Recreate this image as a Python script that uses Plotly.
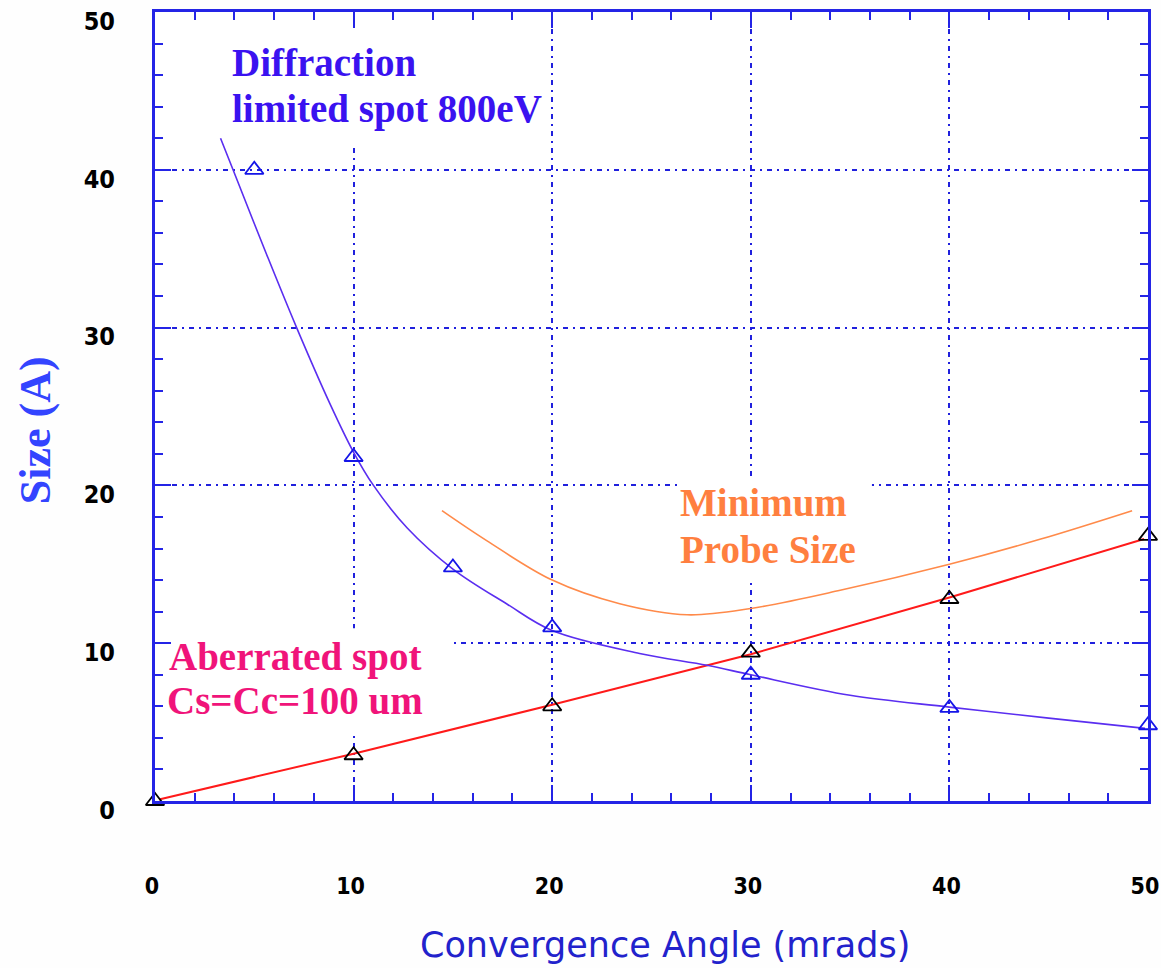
import plotly.graph_objects as go

# ---- data ----
diff_marker_x = [5, 10, 15, 20, 30, 40, 50]
diff_marker_y = [40.0, 21.8, 14.8, 11.0, 8.0, 5.9, 4.8]

diff_curve_x = [3.3, 3.93, 5.6, 7.13, 8.8, 10, 11.0, 12.7, 15, 17.7, 20, 24.4, 27.8, 30, 35, 40, 45, 49.85]
diff_curve_y = [42.0, 40.0, 34.7, 30.0, 25.2, 22.1, 20.0, 17.3, 14.7, 12.5, 10.8, 9.35, 8.6, 8.0, 6.7, 5.95, 5.25, 4.6]

aber_marker_x = [0, 10, 20, 30, 40, 50]
aber_marker_y = [0.0, 2.9, 6.0, 9.4, 12.8, 16.8]

aber_line_x = [0.2, 10, 20, 30, 40, 49.8]
aber_line_y = [0.1, 3.0, 6.1, 9.3, 12.9, 16.6]

probe_x = [14.45, 16.7, 20, 23.4, 26.8, 30, 34.5, 40, 44.6, 49.2]
probe_y = [18.4, 16.5, 14.0, 12.5, 11.8, 12.2, 13.35, 15.0, 16.6, 18.4]

x_ticks = [0, 10, 20, 30, 40, 50]
y_ticks = [0, 10, 20, 30, 40, 50]

AXIS_BLUE = "#2424E6"
GRID_BLUE = "#2020DD"

fig = go.Figure()

fig.add_trace(go.Scatter(x=aber_line_x, y=aber_line_y, mode="lines",
                         line=dict(color="#FF1A1A", width=2), hoverinfo="skip"))
fig.add_trace(go.Scatter(x=probe_x, y=probe_y, mode="lines",
                         line=dict(color="#FF8A4A", width=1.6, shape="spline", smoothing=1.0)))
fig.add_trace(go.Scatter(x=diff_curve_x, y=diff_curve_y, mode="lines",
                         line=dict(color="#5A2EF0", width=1.6, shape="spline", smoothing=1.0)))
fig.add_trace(go.Scatter(x=diff_marker_x, y=diff_marker_y, mode="markers", cliponaxis=False,
                         marker=dict(symbol="triangle-up-open", size=16, color="#1515E8",
                                     line=dict(width=1.8, color="#1515E8"))))
fig.add_trace(go.Scatter(x=aber_marker_x, y=aber_marker_y, mode="markers", cliponaxis=False,
                         marker=dict(symbol="triangle-up-open", size=16, color="#000000",
                                     line=dict(width=1.8, color="#000000"))))

# white boxes hiding gridlines behind the labels (above grid, below traces)
for x0, x1, y0, y1 in [(2.3, 19.7, 41.7, 50), (26.3, 36.1, 14.0, 20.4), (0, 15.0, 4.3, 10.95)]:
    fig.add_shape(type="rect", xref="x", yref="y", x0=x0, x1=x1, y0=y0, y1=y1,
                  fillcolor="white", line=dict(width=0), layer="between")

serif = "Liberation Serif, Times New Roman, serif"
labels = [
    ("Diffraction", 3.78, 46.8, "#3A12F0"),
    ("limited spot 800eV", 3.78, 43.86, "#3A12F0"),
    ("Minimum", 26.33, 18.9, "#FF7F3F"),
    ("Probe Size", 26.33, 15.95, "#FF7F3F"),
    ("Aberrated spot", 0.6, 9.1, "#F0147A"),
    ("Cs=Cc=100 um", 0.5, 6.4, "#F0147A"),
]
for txt, x, y, c in labels:
    fig.add_annotation(text=txt, x=x, y=y, xref="x", yref="y", xanchor="left", yanchor="middle",
                       showarrow=False, font=dict(family=serif, size=39, color=c, weight="bold"))

fig.add_annotation(text="Size (A)", x=-0.1208, y=0.47, xref="paper", yref="paper",
                   textangle=-90, showarrow=False, xanchor="center", yanchor="middle",
                   font=dict(family=serif, size=44, color="#3344FF", weight="bold"))
fig.add_annotation(text="Convergence Angle (mrads)", x=0.5136, y=-0.1825, xref="paper", yref="paper",
                   showarrow=False, xanchor="center", yanchor="middle",
                   font=dict(family="DejaVu Sans, sans-serif", size=35, color="#2222CC"))

tick_family = "DejaVu Sans Condensed, DejaVu Sans, sans-serif"

common = dict(
    showline=True, linecolor=AXIS_BLUE, linewidth=3, mirror="allticks",
    ticks="inside", ticklen=16, tickwidth=2, tickcolor=AXIS_BLUE,
    showgrid=True, gridcolor=GRID_BLUE, gridwidth=2, griddash="5px,5px,2px,5px",
    zeroline=False, tickmode="array",
    minor=dict(dtick=2, ticks="inside", ticklen=8, tickwidth=2, tickcolor=AXIS_BLUE, showgrid=False),
    range=[0, 50], fixedrange=True, automargin=False, ticklabeloverflow="allow",
)

fig.update_xaxes(**common, tickvals=x_ticks, ticktext=[str(v) for v in x_ticks], ticklabelstandoff=62,
                 ticklabelshift=-3,
                 tickfont=dict(family=tick_family, size=23, color="black", weight="bold"))
fig.update_yaxes(**common, tickvals=y_ticks, ticktext=[str(v) for v in y_ticks], ticklabelstandoff=32,
                 ticklabelshift=9,
                 tickfont=dict(family=tick_family, size=25, color="black", weight="bold"))

fig.update_layout(
    width=1161, height=968,
    margin=dict(l=155, r=13, t=12, b=167),
    paper_bgcolor="#FEFEFE", plot_bgcolor="white",
    showlegend=False,
)

fig.write_html("out.html")
